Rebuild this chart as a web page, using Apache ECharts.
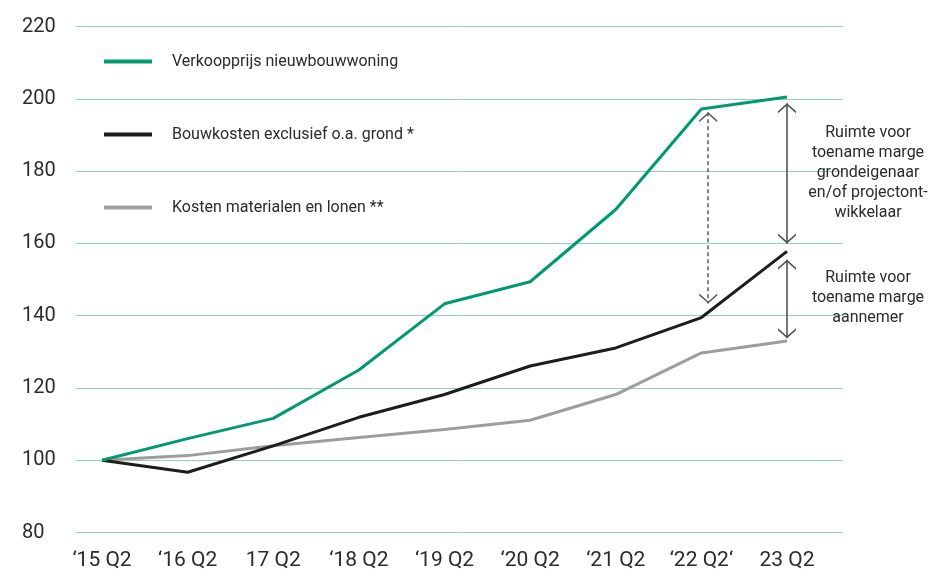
<!DOCTYPE html>
<html>
<head>
<meta charset="utf-8">
<script src="https://cdn.jsdelivr.net/npm/echarts@6/dist/echarts.min.js"></script>
<style>
  html, body { margin: 0; padding: 0; background: #ffffff; }
  #chart { width: 934px; height: 569px; }
</style>
</head>
<body>
<div id="chart"></div>
<script>
// ---- data ----
const categories = ["\u201815 Q2", "\u201816 Q2", "17 Q2", "\u201818 Q2", "\u201819 Q2", "\u201820 Q2", "\u201821 Q2", "\u201822 Q2\u2018", "23 Q2"];
const verkoopprijs = [100, 106, 111.6, 125, 143.3, 149.4, 169.4, 197.2, 200.5];
const bouwkosten   = [100, 96.7, 104, 111.9, 118.2, 126.1, 131.1, 139.5, 157.8];
const materialen   = [100, 101.3, 104, 106.3, 108.5, 111.1, 118.2, 129.7, 133];
const seriesNames = ["Verkoopprijs nieuwbouwwoning", "Bouwkosten exclusief o.a. grond *", "Kosten materialen en lonen **"];
const yTicks = { min: 80, max: 220, interval: 20 };
// annotation arrows: [x index, top value, bottom value]
const arrowGrond = [8, 198.8, 160];
const arrowAannemer = [8, 155.5, 133.8];
const arrowDashed = [7.08, 196.3, 143.4];
const noteGrond = "Ruimte voor\ntoename marge\ngrondeigenaar\nen/of projectont-\nwikkelaar";
const noteAannemer = "Ruimte voor\ntoename marge\naannemer";

const FONT = "Roboto";
const chevron = "path://M0,-10 M0,0 L9,8 L9,10 L0,2 L-9,10 L-9,8 Z";

const toPairs = arr => arr.map((v, i) => [i, v]);

const chart = echarts.init(document.getElementById("chart"), null, { renderer: "canvas" });
chart.setOption({
  animation: false,
  textStyle: { fontFamily: FONT },
  grid: { left: 76, right: 91, top: 26.6, bottom: 36.4, outerBoundsMode: "none" },
  legend: {
    orient: "vertical",
    left: 104,
    top: 53.5,
    padding: 0,
    itemGap: 57,
    itemWidth: 48,
    itemHeight: 4,
    icon: "rect",
    selectedMode: false,
    textStyle: { fontFamily: FONT, fontSize: 16, color: "#2b2b2b", lineHeight: 16, padding: [0, 0, 0, 15] },
    data: seriesNames
  },
  xAxis: {
    type: "value",
    min: -0.304,
    max: 8.654,
    splitLine: { show: false },
    axisLine: { show: false },
    axisTick: { show: false },
    axisLabel: {
      customValues: categories.map((c, i) => i),
      formatter: v => categories[Math.round(v)] || "",
      fontFamily: FONT,
      fontSize: 21,
      color: "#2b2b2b",
      margin: 18
    }
  },
  yAxis: {
    type: "value",
    min: yTicks.min,
    max: yTicks.max,
    interval: yTicks.interval,
    axisLine: { show: false },
    axisTick: { show: false },
    axisLabel: {
      align: "left",
      margin: 54,
      fontFamily: FONT,
      fontSize: 20,
      color: "#2b2b2b",
      padding: [0, 0, 9, 0]
    },
    splitLine: { lineStyle: { color: "#92d2bb", width: 1 } }
  },
  series: [
    {
      name: seriesNames[2],
      type: "line",
      data: toPairs(materialen),
      symbol: "none",
      z: 2,
      lineStyle: { color: "#9d9d9d", width: 3 },
      itemStyle: { color: "#9d9d9d" }
    },
    {
      name: seriesNames[1],
      type: "line",
      data: toPairs(bouwkosten),
      symbol: "none",
      z: 3,
      lineStyle: { color: "#1d1d1b", width: 3 },
      itemStyle: { color: "#1d1d1b" }
    },
    {
      name: seriesNames[0],
      type: "line",
      data: toPairs(verkoopprijs),
      symbol: "none",
      z: 4,
      lineStyle: { color: "#009a70", width: 3 },
      itemStyle: { color: "#009a70" },
      markLine: {
        silent: true,
        symbol: [chevron, chevron],
        symbolSize: [18, 20],
        label: { show: false },
        emphasis: { disabled: true },
        data: [
          [
            { coord: [arrowGrond[0], arrowGrond[1]], lineStyle: { color: "#4a4a4a", width: 1.5, type: "solid" } },
            { coord: [arrowGrond[0], arrowGrond[2]] }
          ],
          [
            { coord: [arrowAannemer[0], arrowAannemer[1]], lineStyle: { color: "#4a4a4a", width: 1.5, type: "solid" } },
            { coord: [arrowAannemer[0], arrowAannemer[2]] }
          ],
          [
            { coord: [arrowDashed[0], arrowDashed[1]], lineStyle: { color: "#5a5a5a", width: 1.5, type: [4, 3] } },
            { coord: [arrowDashed[0], arrowDashed[2]] }
          ]
        ]
      },
      markPoint: {
        silent: true,
        symbol: "rect",
        symbolSize: 0,
        label: {
          show: true,
          position: "inside",
          fontFamily: FONT,
          fontSize: 16,
          lineHeight: 20,
          color: "#2b2b2b",
          align: "center",
          verticalAlign: "middle"
        },
        data: [
          { coord: [8, 179.6], label: { formatter: noteGrond, offset: [81, 0] } },
          { coord: [8, 145], label: { formatter: noteAannemer, offset: [81, 0] } }
        ]
      }
    }
  ]
});
</script>
</body>
</html>
